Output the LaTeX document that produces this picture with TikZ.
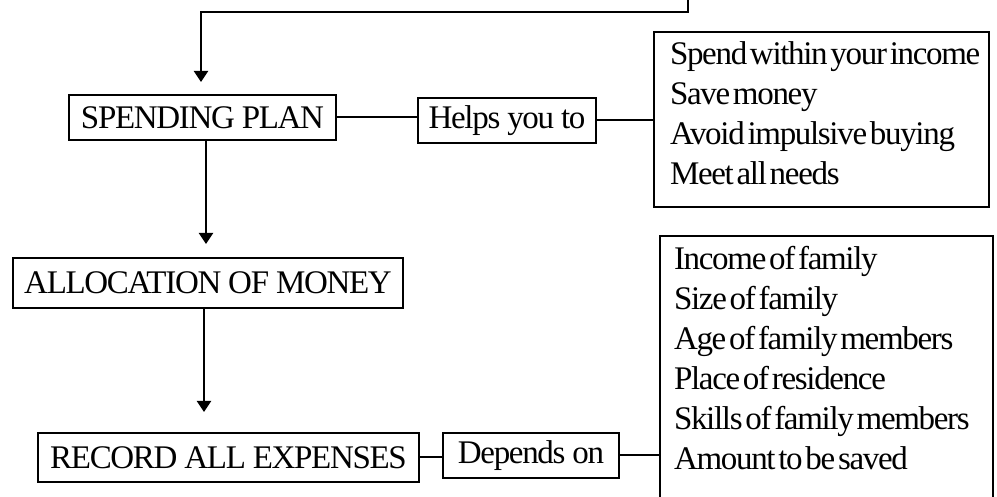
\documentclass[tikz,border=0pt]{standalone}
\usepackage{fontspec}
\setmainfont[LetterSpace=-4]{Liberation Serif}
\newfontfamily\listfont[LetterSpace=-4, WordSpace=0.4]{Liberation Serif}
\usetikzlibrary{arrows.meta}

\begin{document}
\begin{tikzpicture}[x=0.5pt, y=-0.5pt, line width=1pt,
  stage/.style={draw, inner sep=0pt, minimum width=#1,
    font=\fontsize{16.5}{20}\selectfont},
  itembox/.style={draw, inner sep=0pt},
  items/.style={inner sep=0pt, anchor=north west, align=left,
    font=\listfont\fontsize{16.5}{20}\selectfont},
  flow/.style={-{Triangle[length=5.5pt, width=7pt]}}]

\useasboundingbox (0,0) rectangle (997,497);

\node[stage=133.5pt, minimum height=22.5pt] (plan) at (202.5,117.5) {SPENDING PLAN};
\node[stage=89pt, minimum height=22.5pt] (helps) at (507,120.5) {Helps you to};
\node[itembox, minimum width=167.5pt, minimum height=87.5pt] (needs) at (821.5,119.5) {};
\node[items] (needlist) at ([xshift=8pt, yshift=-5pt]needs.north west)
  {Spend within your income\\Save money\\Avoid impulsive buying\\Meet all needs};

\node[stage=195pt, minimum height=25pt] (alloc) at (208,283) {ALLOCATION OF MONEY};

\node[stage=190.5pt, minimum height=24.5pt] (record) at (228.5,457.5) {RECORD ALL EXPENSES};
\node[stage=88pt, minimum height=22.5pt] (depends) at (531,455.5) {Depends on};
\node[itembox, minimum width=166.5pt, minimum height=140pt, anchor=north west]
  (factors) at (659,235) {};
\node[items] (factorlist) at ([xshift=7pt, yshift=-5pt]factors.north west)
  {Income of family\\Size of family\\Age of family members\\Place of residence\\Skills of family members\\Amount to be saved};

\coordinate (start) at (688,-10);
\coordinate (bend) at (201,12.5);
\draw[flow, shorten >=6pt] (start) |- (bend) -- (bend |- plan.north);

\draw (plan.east) -- (plan.east -| helps.west);
\draw (helps.east) -- (helps.east -| needs.west);

\draw[flow, shorten >=6.5pt] ([xshift=1.75pt]plan.south) -- ([xshift=1.75pt]plan.south |- alloc.north);
\draw[flow, shorten >=10pt] ([xshift=-2pt]alloc.south) -- ([xshift=-2pt]alloc.south |- record.north);

\draw (record.east) -- (record.east -| depends.west);
\draw (depends.east) -- (depends.east -| factors.west);

\end{tikzpicture}
\end{document}
